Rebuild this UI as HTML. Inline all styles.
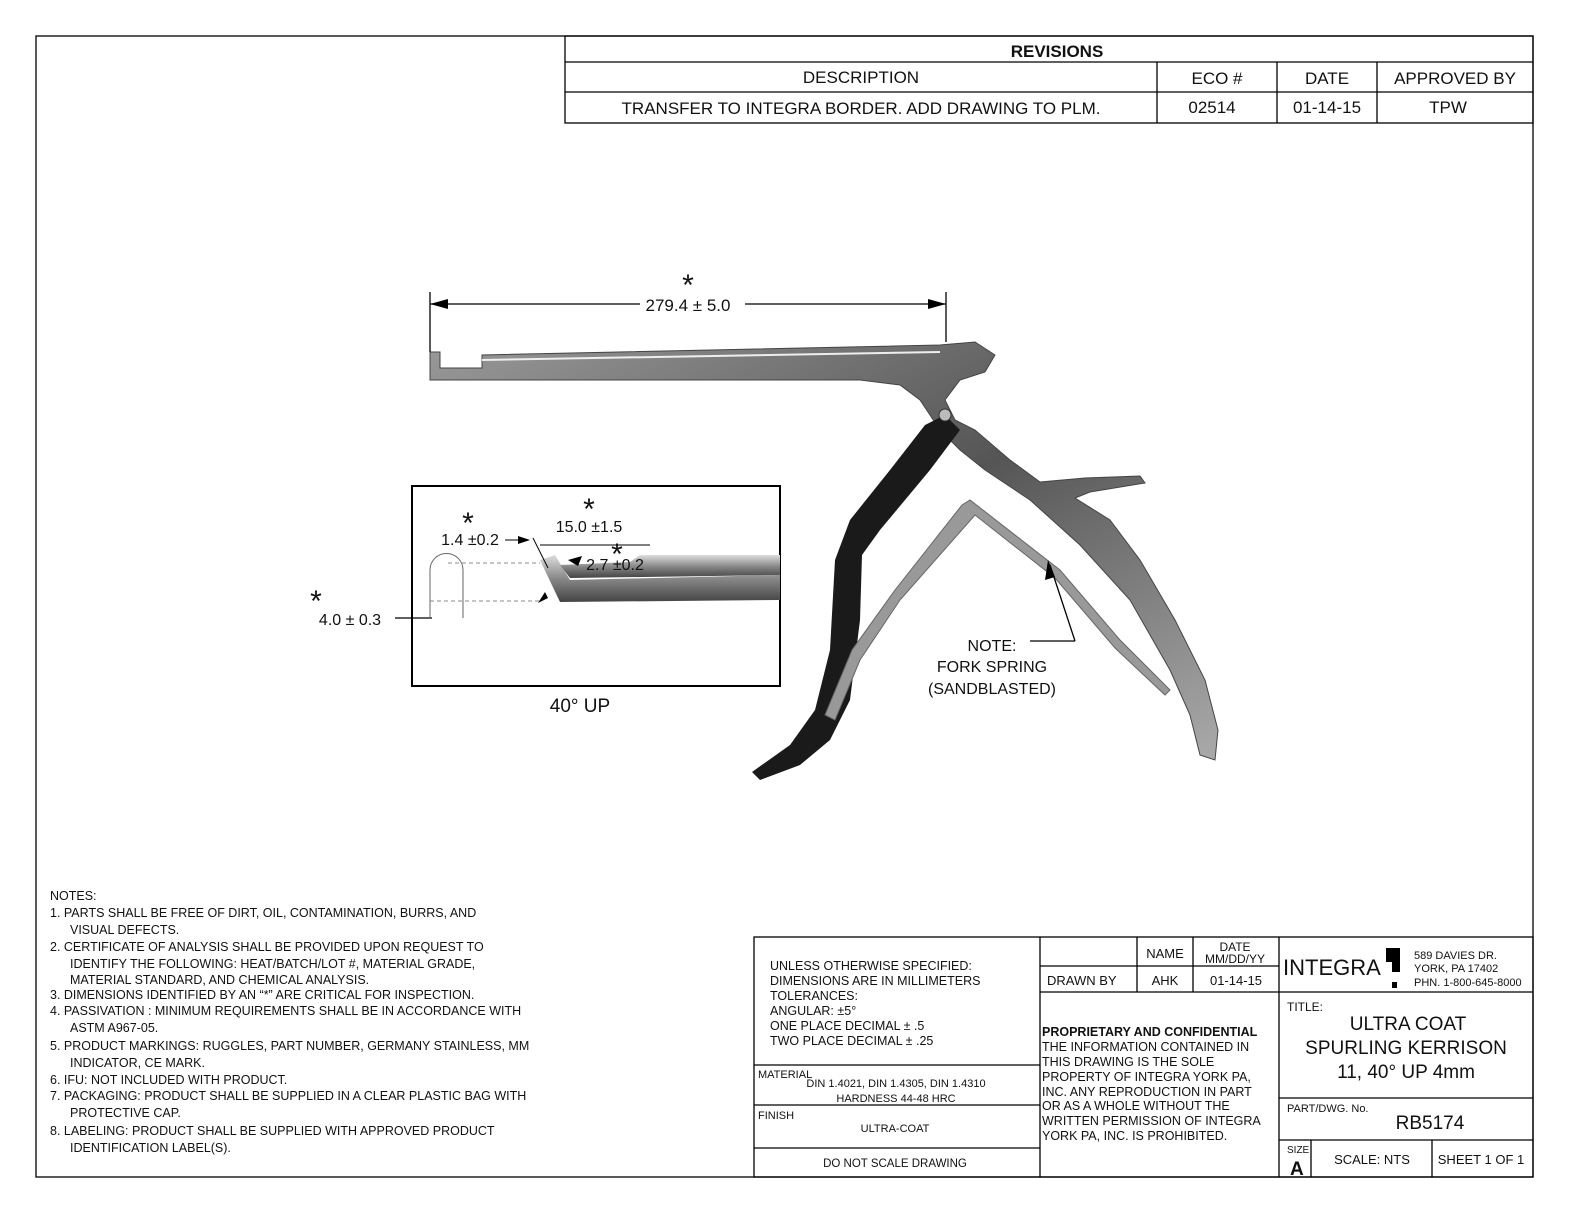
<!DOCTYPE html>
<html><head><meta charset="utf-8"><style>
body{margin:0;background:#fff}
svg{display:block}
text{font-family:"Liberation Sans",sans-serif;fill:#111}
</style></head><body>
<svg width="1584" height="1224" viewBox="0 0 1584 1224" xmlns="http://www.w3.org/2000/svg">
<defs>
<linearGradient id="sh" x1="0" y1="0" x2="0" y2="1"><stop offset="0" stop-color="#ddd"/><stop offset=".5" stop-color="#888"/><stop offset="1" stop-color="#444"/></linearGradient>
<linearGradient id="hd" x1="0" y1="0" x2="1" y2="1"><stop offset="0" stop-color="#999"/><stop offset=".5" stop-color="#555"/><stop offset="1" stop-color="#aaa"/></linearGradient>
</defs>
<g fill="none" stroke="#000" stroke-width="1.3">
<rect x="36" y="36" width="1497" height="1141"/>
<rect x="565" y="36" width="968" height="87"/>
<line x1="565" y1="62" x2="1533" y2="62"/><line x1="565" y1="92" x2="1533" y2="92"/>
<line x1="1157" y1="62" x2="1157" y2="123"/><line x1="1277" y1="62" x2="1277" y2="123"/><line x1="1377" y1="62" x2="1377" y2="123"/>
<rect x="754" y="937" width="779" height="240"/>
<line x1="1040" y1="937" x2="1040" y2="1177"/><line x1="1279" y1="937" x2="1279" y2="1177"/>
<line x1="754" y1="1065" x2="1040" y2="1065"/><line x1="754" y1="1105" x2="1040" y2="1105"/><line x1="754" y1="1148" x2="1040" y2="1148"/>
<line x1="1040" y1="966" x2="1279" y2="966"/><line x1="1040" y1="992" x2="1279" y2="992"/>
<line x1="1137" y1="937" x2="1137" y2="992"/><line x1="1193" y1="937" x2="1193" y2="992"/>
<line x1="1279" y1="992" x2="1533" y2="992"/><line x1="1279" y1="1098" x2="1533" y2="1098"/><line x1="1279" y1="1140" x2="1533" y2="1140"/>
<line x1="1311" y1="1140" x2="1311" y2="1177"/><line x1="1432" y1="1140" x2="1432" y2="1177"/>
<rect x="412" y="486" width="368" height="200" stroke-width="2"/>
</g>
<text x="1057" y="57" font-size="17" font-weight="bold" text-anchor="middle">REVISIONS</text>
<g font-size="17" text-anchor="middle">
<text x="861" y="83">DESCRIPTION</text><text x="1217" y="84">ECO #</text><text x="1327" y="84">DATE</text><text x="1455" y="84">APPROVED BY</text>
<text x="861" y="114">TRANSFER TO INTEGRA BORDER. ADD DRAWING TO PLM.</text><text x="1212" y="113">02514</text><text x="1327" y="113">01-14-15</text><text x="1448" y="113">TPW</text>
</g>
<!-- instrument -->
<path d="M430 352 L440 352 L440 368 L482 368 L482 355 L940 345 L975 342 L995 355 L985 372 L960 380 L945 400 L955 420 L975 430 L1010 460 L1040 482 L1085 478 L1140 476 L1145 483 L1090 492 L1075 498 L1110 520 L1140 560 L1175 620 L1205 680 L1218 730 L1215 760 L1200 755 L1190 715 L1170 670 L1130 600 L1080 545 L1030 500 L985 470 L960 450 L940 430 L920 400 L900 385 L860 380 L440 380 L430 380 Z" fill="url(#hd)" stroke="#444"/>
<path d="M482 360 L940 352" stroke="#eee" stroke-width="2"/>
<path d="M925 425 L945 415 L960 430 L930 470 L880 530 L862 555 L860 620 L850 700 L830 740 L800 765 L760 780 L752 772 L790 745 L815 710 L830 650 L835 560 L850 520 L890 470 Z" fill="#1a1a1a"/>
<path d="M962 505 L970 500 L1060 570 L1120 640 L1170 690 L1165 695 L1115 648 L1055 578 L975 515 L900 600 L860 660 L835 720 L825 715 L852 650 L895 590 Z" fill="#999" stroke="#666"/>
<circle cx="945" cy="415" r="6" fill="#bbb" stroke="#333"/>
<!-- dim 279.4 -->
<g stroke="#000" stroke-width="1.3">
<line x1="430" y1="292" x2="430" y2="352"/><line x1="946" y1="292" x2="946" y2="342"/>
<line x1="430" y1="304" x2="640" y2="304"/><line x1="745" y1="304" x2="946" y2="304"/>
<line x1="1030" y1="641" x2="1075" y2="641"/><line x1="1075" y1="641" x2="1050" y2="565"/>
<line x1="395" y1="618" x2="432" y2="618"/>
</g>
<path d="M430 304 L448 299 L448 309Z M946 304 L928 299 L928 309Z M1048 560 L1045 580 L1055 577Z"/>
<text x="688" y="311" font-size="17" text-anchor="middle">279.4 ± 5.0</text>
<text x="688" y="295" font-size="30" text-anchor="middle">*</text>
<!-- inset -->
<path d="M540 560 L555 555 L570 580 L780 575 L780 600 L560 602 Z" fill="url(#sh)"/>
<path d="M560 565 L630 562 L640 555 L780 555 L780 575 L570 578 Z" fill="url(#sh)"/>
<path d="M430 618 L430 570 A16 16 0 0 1 463 570 L463 618" fill="none" stroke="#666"/>
<g stroke="#888" stroke-dasharray="4 3"><line x1="448" y1="563" x2="540" y2="563"/><line x1="430" y1="601" x2="540" y2="601"/></g>
<g stroke="#000"><line x1="540" y1="545" x2="650" y2="545"/><line x1="505" y1="540" x2="520" y2="540"/><line x1="533" y1="538" x2="548" y2="568"/></g>
<path d="M530 540 L518 536 L518 544Z M548 598 L538 603 L545 592Z M568 560 L582 556 L578 566Z"/>
<g font-size="16" text-anchor="middle">
<text x="470" y="545">1.4 ±0.2</text><text x="589" y="532">15.0 ±1.5</text><text x="615" y="570">2.7 ±0.2</text>
<text x="350" y="625">4.0 ± 0.3</text><text x="580" y="712" font-size="19">40° UP</text>
<text x="992" y="651">NOTE:</text><text x="992" y="672">FORK SPRING</text><text x="992" y="694">(SANDBLASTED)</text>
</g>
<g font-size="30" text-anchor="middle"><text x="468" y="533">*</text><text x="589" y="519">*</text><text x="617" y="564">*</text><text x="316" y="611">*</text></g>
<!-- notes -->
<g font-size="12.5">
<text x="50" y="900">NOTES:</text>
<text x="50" y="917">1.  PARTS SHALL BE FREE OF DIRT, OIL, CONTAMINATION, BURRS, AND</text>
<text x="70" y="934">VISUAL DEFECTS.</text>
<text x="50" y="951">2.  CERTIFICATE OF ANALYSIS SHALL BE PROVIDED UPON REQUEST TO</text>
<text x="70" y="968">IDENTIFY THE FOLLOWING: HEAT/BATCH/LOT #, MATERIAL GRADE,</text>
<text x="70" y="984">MATERIAL STANDARD, AND CHEMICAL ANALYSIS.</text>
<text x="50" y="999">3.  DIMENSIONS IDENTIFIED BY AN “*” ARE CRITICAL FOR INSPECTION.</text>
<text x="50" y="1015">4.  PASSIVATION : MINIMUM REQUIREMENTS SHALL BE IN ACCORDANCE WITH</text>
<text x="70" y="1032">ASTM A967-05.</text>
<text x="50" y="1050">5.  PRODUCT MARKINGS: RUGGLES, PART NUMBER, GERMANY STAINLESS, MM</text>
<text x="70" y="1067">INDICATOR, CE MARK.</text>
<text x="50" y="1084">6.  IFU: NOT INCLUDED WITH PRODUCT.</text>
<text x="50" y="1100">7.  PACKAGING: PRODUCT  SHALL BE SUPPLIED IN A CLEAR PLASTIC BAG WITH</text>
<text x="70" y="1117">PROTECTIVE CAP.</text>
<text x="50" y="1135">8.  LABELING: PRODUCT SHALL BE SUPPLIED WITH APPROVED PRODUCT</text>
<text x="70" y="1152">IDENTIFICATION LABEL(S).</text>
</g>
<!-- title block text -->
<g font-size="12.5">
<text x="770" y="970">UNLESS OTHERWISE SPECIFIED:</text>
<text x="770" y="985">DIMENSIONS ARE IN MILLIMETERS</text>
<text x="770" y="1000">TOLERANCES:</text>
<text x="770" y="1015">ANGULAR: ±5°</text>
<text x="770" y="1030">ONE PLACE DECIMAL ± .5</text>
<text x="770" y="1045">TWO PLACE DECIMAL ± .25</text>
<text x="758" y="1078" font-size="11">MATERIAL</text>
<text x="896" y="1087" font-size="11" text-anchor="middle">DIN 1.4021, DIN 1.4305, DIN 1.4310</text>
<text x="896" y="1102" font-size="11" text-anchor="middle">HARDNESS 44-48 HRC</text>
<text x="758" y="1119" font-size="11">FINISH</text>
<text x="895" y="1132" font-size="11" text-anchor="middle">ULTRA-COAT</text>
<text x="895" y="1167" font-size="11.5" text-anchor="middle">DO NOT SCALE DRAWING</text>
<text x="1165" y="958" font-size="13" text-anchor="middle">NAME</text>
<text x="1235" y="951" font-size="12" text-anchor="middle">DATE</text>
<text x="1235" y="963" font-size="12" text-anchor="middle">MM/DD/YY</text>
<text x="1047" y="985" font-size="13">DRAWN BY</text>
<text x="1165" y="985" font-size="13" text-anchor="middle">AHK</text>
<text x="1236" y="985" font-size="13" text-anchor="middle">01-14-15</text>
<text x="1042" y="1036" font-weight="bold">PROPRIETARY AND CONFIDENTIAL</text>
<text x="1042" y="1051">THE INFORMATION CONTAINED IN</text>
<text x="1042" y="1066">THIS DRAWING IS THE SOLE</text>
<text x="1042" y="1081">PROPERTY OF INTEGRA YORK PA,</text>
<text x="1042" y="1096">INC.  ANY REPRODUCTION IN PART</text>
<text x="1042" y="1110">OR AS A WHOLE WITHOUT THE</text>
<text x="1042" y="1125">WRITTEN PERMISSION OF INTEGRA</text>
<text x="1042" y="1140">YORK PA, INC. IS PROHIBITED.</text>
<text x="1283" y="975" font-size="22">INTEGRA</text>
<rect x="1386" y="948" width="14" height="14" fill="#000"/><rect x="1392" y="962" width="8" height="10" fill="#000"/><rect x="1392" y="982" width="5" height="6" fill="#000"/>
<text x="1414" y="959" font-size="11">589 DAVIES DR.</text>
<text x="1414" y="972" font-size="11">YORK, PA 17402</text>
<text x="1414" y="986" font-size="11">PHN. 1-800-645-8000</text>
<text x="1287" y="1011" font-size="12">TITLE:</text>
<text x="1408" y="1030" font-size="19" text-anchor="middle">ULTRA COAT</text>
<text x="1406" y="1054" font-size="19" text-anchor="middle">SPURLING KERRISON</text>
<text x="1406" y="1078" font-size="19" text-anchor="middle">11, 40° UP 4mm</text>
<text x="1287" y="1112" font-size="11">PART/DWG. No.</text>
<text x="1430" y="1129" font-size="19" text-anchor="middle">RB5174</text>
<text x="1287" y="1153" font-size="10">SIZE</text>
<text x="1290" y="1175" font-size="19" font-weight="bold">A</text>
<text x="1372" y="1164" font-size="13" text-anchor="middle">SCALE: NTS</text>
<text x="1481" y="1164" font-size="13" text-anchor="middle">SHEET 1 OF 1</text>
</g>
</svg>
</body></html>
